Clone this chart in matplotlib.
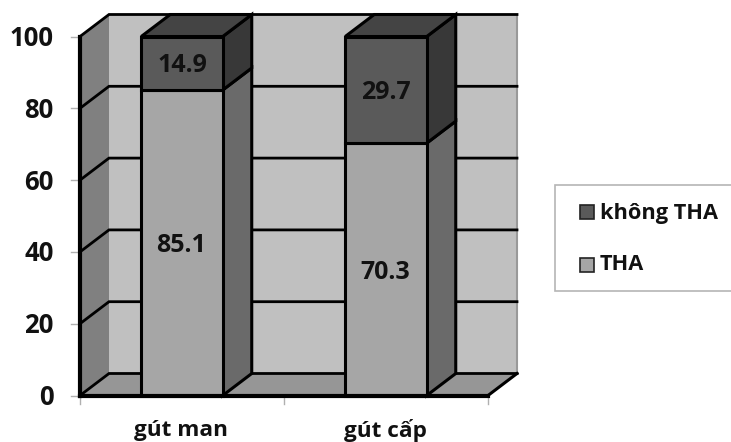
import matplotlib
matplotlib.use("Agg")
import matplotlib.pyplot as plt
from matplotlib.patches import Polygon, Rectangle

categories = ["gút man", "gút cấp"]
tha = [85.1, 70.3]
khong_tha = [14.9, 29.7]
series_names = ["không THA", "THA"]
y_ticks = [0, 20, 40, 60, 80, 100]

W, H = 731, 442
plt.rcParams["font.family"] = ["Open Sans", "DejaVu Sans"]
plt.rcParams["font.weight"] = "bold"
fig = plt.figure(figsize=(W / 100, H / 100), dpi=100, facecolor="white")

L, R, B, T = 80, 488, 395.5, 36.5
ax = fig.add_axes([L / W, 1 - B / H, (R - L) / W, (B - T) / H])
ax.set_xlim(-0.5, 1.5)
ax.set_ylim(0, 100)
ax.axis("off")

DX = 29 * 2 / (R - L)
DY = 22 * 100 / (B - T)
BW = 81.5 * 2 / (R - L)
PX = 100 / (B - T)  # one pixel in y units

C_WALL = "#c0c0c0"
C_SIDE = "#808080"
C_FLOOR = "#969696"
C_THA = "#a6a6a6"
C_THA_S = "#6a6a6a"
C_NO = "#5a5a5a"
C_NO_S = "#383838"
C_NO_T = "#444444"
LW = 2.2
x0, x1 = -0.5, 1.5


def poly(pts, fc, ec="black", lw=LW, z=2):
    ax.add_patch(Polygon(pts, closed=True, fc=fc, ec=ec, lw=lw, zorder=z,
                         clip_on=False, joinstyle="miter"))


# walls and floor
poly([(x0 + DX, DY), (x1 + DX, DY), (x1 + DX, 100 + DY), (x0 + DX, 100 + DY)], C_WALL, ec="none", z=1)
poly([(x0, 0), (x0 + DX, DY), (x0 + DX, 100 + DY), (x0, 100)], C_SIDE, ec="none", z=1)
poly([(x0, 0), (x1, 0), (x1 + DX, DY), (x0 + DX, DY)], C_FLOOR, ec="none", z=1)
ax.plot([x1 + DX, x1 + DX], [DY, 100 + DY], color="#999999", lw=1.5, zorder=1.1, clip_on=False)

# gridlines
for v in y_ticks:
    ax.plot([x0, x0 + DX, x1 + DX], [v, v + DY, v + DY], color="black", lw=LW - 0.2,
            zorder=1.2, clip_on=False, solid_joinstyle="miter")
ax.plot([x0, x1], [0, 0], color="black", lw=3, zorder=4, clip_on=False)
ax.plot([x0, x0], [0, 100], color="black", lw=3, zorder=1.3, clip_on=False)
ax.plot([x1, x1 + DX], [0, DY], color="black", lw=LW, zorder=1.3, clip_on=False)

# ticks
for v in y_ticks:
    ax.plot([x0 - 9 * 2 / (R - L), x0], [v, v], color="#b0b0b0", lw=1, zorder=1, clip_on=False)
    ax.text(x0 - 26.5 * 2 / (R - L), v - 2 * PX, str(v), ha="right", va="center", fontsize=18.5, color="#111111")
for v in [x0, 0.5, x1]:
    ax.plot([v, v], [0, -2.4], color="#b0b0b0", lw=1, zorder=1, clip_on=False)


def bar3d(c, lo, hi, front, side, top=None):
    a, b = c - BW / 2, c + BW / 2
    poly([(b, lo), (b + DX, lo + DY), (b + DX, hi + DY), (b, hi)], side, z=3)
    if top:
        poly([(a, hi), (b, hi), (b + DX, hi + DY), (a + DX, hi + DY)], top, z=3)
    poly([(a, lo), (b, lo), (b, hi), (a, hi)], front, z=3.5)


for i, name in enumerate(categories):
    bar3d(i, 0, tha[i], C_THA, C_THA_S)
    bar3d(i, tha[i], tha[i] + khong_tha[i], C_NO, C_NO_S, C_NO_T)
    ax.text(i - 0.005, tha[i] / 2 - 3 * PX, f"{tha[i]}", ha="center", va="center", fontsize=18, color="#111111", zorder=6)
    ax.text(i, tha[i] + khong_tha[i] / 2 - 2.5 * PX, f"{khong_tha[i]}", ha="center", va="center",
            fontsize=18, color="#111111", zorder=6)
    ax.text(i - 0.003, -9.8, name, ha="center", va="center", fontsize=16.2, color="#111111", zorder=6)

# legend (figure pixel coordinates)
def fx(p): return p / W
def fy(p): return 1 - p / H

fig.add_artist(Rectangle((fx(555), fy(291)), (W + 5 - 555) / W, 106 / H, transform=fig.transFigure,
                         fc="white", ec="#b5b5b5", lw=1.2))
for name, col, yc, ty in zip(series_names, [C_NO, C_THA], [211.5, 264.5], [213.5, 265]):
    fig.add_artist(Rectangle((fx(579.5), fy(yc + 7)), 14 / W, 14 / H, transform=fig.transFigure,
                             fc=col, ec="#222222", lw=1.2))
    fig.text(fx(600), fy(ty), name, ha="left", va="center", fontsize=15.7, color="#111111")

fig.savefig("out.png", dpi=100, facecolor="white")
